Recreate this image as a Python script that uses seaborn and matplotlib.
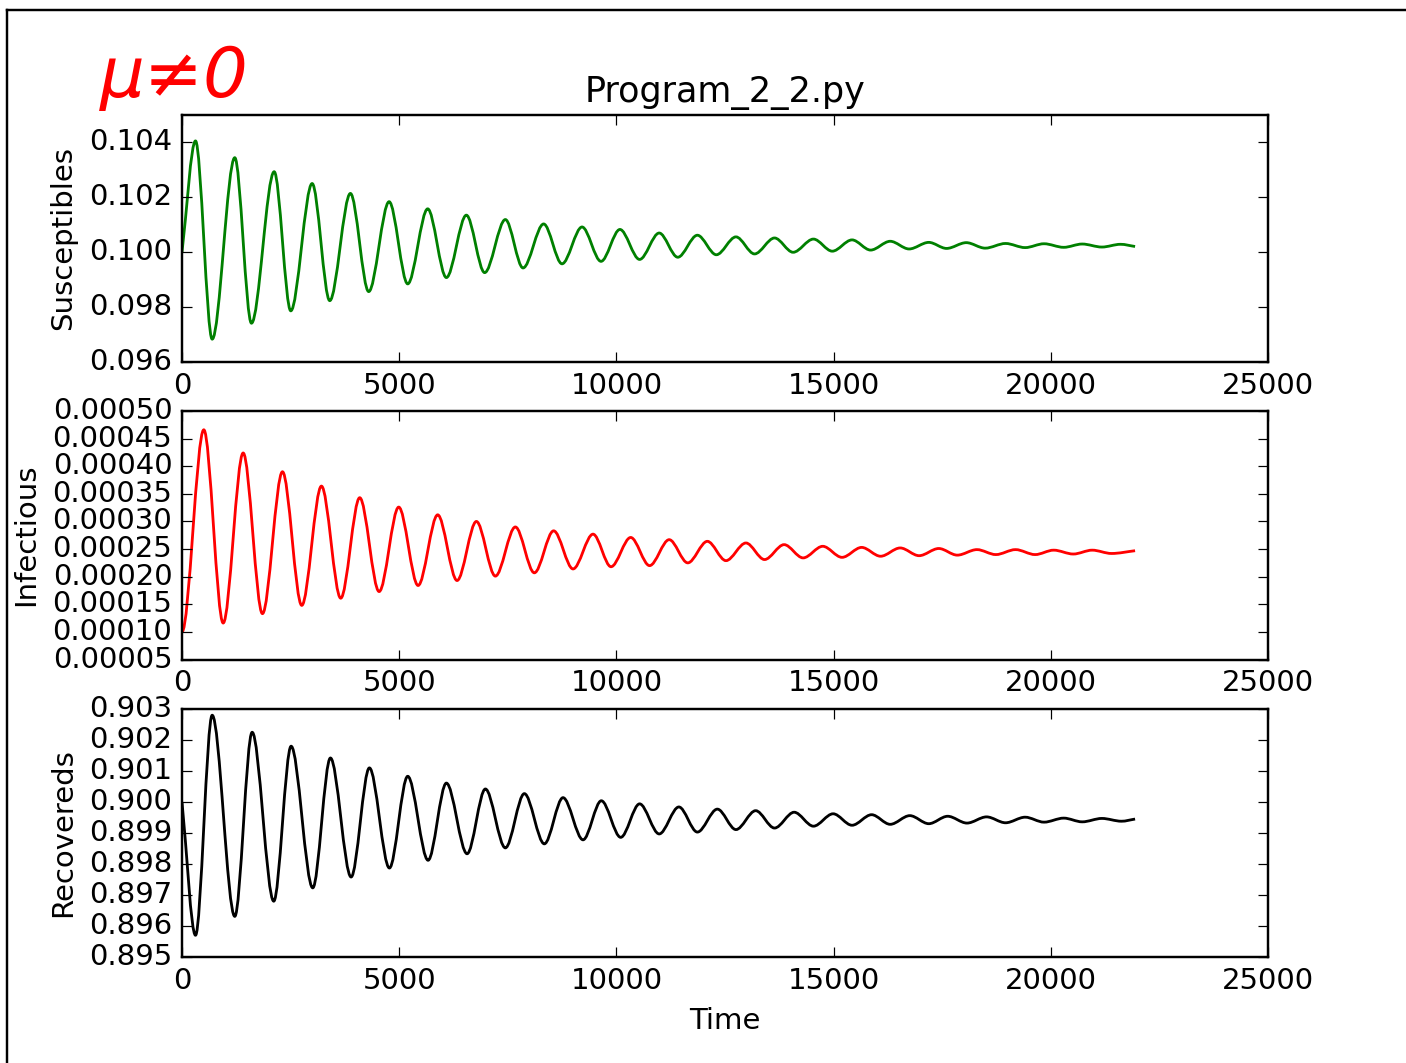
import matplotlib
matplotlib.use("Agg")
import matplotlib.pyplot as plt
from matplotlib.lines import Line2D
from matplotlib.path import Path
from matplotlib.patches import PathPatch
from matplotlib.ticker import FixedLocator, FixedFormatter
import seaborn as sns

# ---------------- data (start, extrema, end) ----------------
S_time = [0, 311, 695, 1215, 1599, 2122, 2504, 2996, 3401, 3877, 4298, 4768, 5196,
          5656, 6086, 6546, 6967, 7444, 7851, 8325, 8748, 9209, 9646, 10081, 10534,
          10985, 11413, 11864, 12301, 12752, 13180, 13640, 14068, 14536, 14970, 15424,
          15852, 16303, 16738, 17191, 17600, 18054, 18489, 18958, 19409, 19844, 20297,
          20723, 21176, 21604, 21940]
S_vals = [0.10000, 0.10404, 0.09683, 0.10343, 0.09741, 0.10292, 0.09786, 0.10249,
          0.09823, 0.10213, 0.09856, 0.10183, 0.09884, 0.10157, 0.09907, 0.10134,
          0.09925, 0.10118, 0.09942, 0.10102, 0.09957, 0.10091, 0.09966, 0.10082,
          0.09973, 0.10069, 0.09981, 0.10061, 0.09990, 0.10055, 0.09993, 0.10051,
          0.09999, 0.10047, 0.10003, 0.10044, 0.10007, 0.10039, 0.10011, 0.10035,
          0.10013, 0.10034, 0.10014, 0.10031, 0.10016, 0.10030, 0.10017, 0.10029,
          0.10018, 0.10028, 0.10020]

I_time = [0, 502, 948, 1408, 1852, 2313, 2757, 3210, 3654, 4091, 4538, 4989, 5435,
          5886, 6332, 6777, 7214, 7674, 8111, 8555, 9002, 9462, 9876, 10329, 10764,
          11215, 11643, 12094, 12522, 12982, 13410, 13861, 14298, 14750, 15194, 15645,
          16082, 16533, 16968, 17421, 17847, 18300, 18735, 19188, 19639, 20067, 20518,
          20953, 21397, 21940]
I_vals = [0.000100, 0.000466, 0.000116, 0.000424, 0.000133, 0.000390, 0.000148,
          0.000364, 0.000161, 0.000343, 0.000173, 0.000326, 0.000184, 0.000312,
          0.000193, 0.000300, 0.000201, 0.000290, 0.000207, 0.000283, 0.000214,
          0.000277, 0.000218, 0.000271, 0.000220, 0.000267, 0.000225, 0.000264,
          0.000229, 0.000261, 0.000231, 0.000258, 0.000234, 0.000255, 0.000235,
          0.000253, 0.000237, 0.000252, 0.000238, 0.000251, 0.000239, 0.000249,
          0.000240, 0.000249, 0.000240, 0.000248, 0.000241, 0.000248, 0.000242,
          0.000247]

R_time = [0, 311, 695, 1215, 1615, 2112, 2512, 3010, 3417, 3893, 4314, 4775, 5196,
          5665, 6086, 6563, 6984, 7444, 7881, 8341, 8771, 9232, 9653, 10099, 10534,
          10985, 11438, 11864, 12324, 12752, 13206, 13640, 14092, 14536, 14989, 15424,
          15875, 16303, 16754, 17191, 17626, 18070, 18521, 18958, 19409, 19844, 20297,
          20723, 21176, 21627, 21940]
R_vals = [0.90000, 0.89570, 0.90280, 0.89631, 0.90225, 0.89680, 0.90180, 0.89723,
          0.90142, 0.89758, 0.90110, 0.89787, 0.90083, 0.89812, 0.90061, 0.89833,
          0.90042, 0.89852, 0.90027, 0.89865, 0.90014, 0.89878, 0.90004, 0.89886,
          0.89994, 0.89897, 0.89984, 0.89903, 0.89977, 0.89911, 0.89972, 0.89916,
          0.89967, 0.89922, 0.89962, 0.89925, 0.89959, 0.89928, 0.89956, 0.89930,
          0.89954, 0.89932, 0.89952, 0.89933, 0.89951, 0.89935, 0.89948, 0.89936,
          0.89947, 0.89938, 0.89945]

x_ticks = [0, 5000, 10000, 15000, 20000, 25000]
x_tick_labels = ["0", "5000", "10000", "15000", "20000", "25000"]
S_ticks = [0.096, 0.098, 0.100, 0.102, 0.104]
S_tick_labels = ["0.096", "0.098", "0.100", "0.102", "0.104"]
I_ticks = [0.00005, 0.00010, 0.00015, 0.00020, 0.00025, 0.00030, 0.00035, 0.00040,
           0.00045, 0.00050]
I_tick_labels = ["0.00005", "0.00010", "0.00015", "0.00020", "0.00025", "0.00030",
                 "0.00035", "0.00040", "0.00045", "0.00050"]
R_ticks = [0.895, 0.896, 0.897, 0.898, 0.899, 0.900, 0.901, 0.902, 0.903]
R_tick_labels = ["0.895", "0.896", "0.897", "0.898", "0.899", "0.900", "0.901",
                 "0.902", "0.903"]

# ---------------- style ----------------
plt.style.use("classic")
plt.rcParams["font.family"] = ["DejaVu Sans"]
plt.rcParams["figure.facecolor"] = "white"
plt.rcParams["savefig.facecolor"] = "white"

W, H, DPI = 1406, 1063, 175
fig = plt.figure(figsize=(W / DPI, H / DPI), dpi=DPI)


def px_axes(left, top, right, bottom):
    return fig.add_axes([left / W, 1 - bottom / H, (right - left) / W, (bottom - top) / H])


def smooth_path(xy, flat_start=False):
    """Smooth line through the given vertices: horizontal tangents at the
    (interior) extrema, secant tangents at the open ends."""
    xs, ys = xy[:, 0], xy[:, 1]
    n = len(xs)
    verts = [(xs[0], ys[0])]
    codes = [Path.MOVETO]
    for i in range(n - 1):
        x0, y0, x1, y1 = xs[i], ys[i], xs[i + 1], ys[i + 1]
        dt = x1 - x0
        sec = (y1 - y0) / dt
        m0 = sec if (i == 0 and not flat_start) else 0.0
        m1 = sec if i + 1 == n - 1 else 0.0
        verts += [(x0 + dt / 3, y0 + m0 * dt / 3), (x1 - dt / 3, y1 - m1 * dt / 3), (x1, y1)]
        codes += [Path.CURVE4] * 3
    return Path(verts, codes)


ax1 = px_axes(182, 114.5, 1268, 362)
ax2 = px_axes(182, 411, 1268, 659.5)
ax3 = px_axes(182, 709, 1268, 957)

panels = [
    (ax1, S_time, S_vals, "g", "Susceptibles", (0.096, 0.105), S_ticks, S_tick_labels, False),
    (ax2, I_time, I_vals, "r", "Infectious", (0.00005, 0.00050), I_ticks, I_tick_labels, True),
    (ax3, R_time, R_vals, "k", "Recovereds", (0.895, 0.903), R_ticks, R_tick_labels, False),
]

for ax, t, v, col, lab, ylim, yt, ytl, flat in panels:
    sns.lineplot(x=t, y=v, ax=ax, color=col, linewidth=1.15, estimator=None, sort=False)
    line = ax.lines[-1]
    xy = line.get_xydata()
    # render seaborn's line as a smooth curve (same vertices, same style)
    ax.add_patch(PathPatch(smooth_path(xy, flat), fill=False, edgecolor=line.get_color(),
                           linewidth=line.get_linewidth(), joinstyle="round",
                           capstyle="butt"))
    line.remove()
    ax.set_xlim(0, 25000)
    ax.set_ylim(*ylim)
    ax.xaxis.set_major_locator(FixedLocator(x_ticks))
    ax.xaxis.set_major_formatter(FixedFormatter(x_tick_labels))
    ax.yaxis.set_major_locator(FixedLocator(yt))
    ax.yaxis.set_major_formatter(FixedFormatter(ytl))
    ax.set_xlabel("Time", fontsize=12)
    ax.set_ylabel(lab, fontsize=12)
    ax.tick_params(direction="in", top=True, right=True, labelsize=12)

ax1.set_title("Program_2_2.py", fontsize=14.4)

# handwritten-style annotation
fig.text(100 / W, 1 - 97 / H, "μ≠0", color="red", fontsize=29, style="italic",
         ha="left", va="baseline")

# screenshot frame (top and left edges)
fig.add_artist(Line2D([7 / W, 1], [1 - 10 / H, 1 - 10 / H], color="black", lw=1.0,
                      transform=fig.transFigure))
fig.add_artist(Line2D([7 / W, 7 / W], [0, 1 - 10 / H], color="black", lw=1.0,
                      transform=fig.transFigure))

fig.savefig("out.png", dpi=DPI, facecolor="white")
